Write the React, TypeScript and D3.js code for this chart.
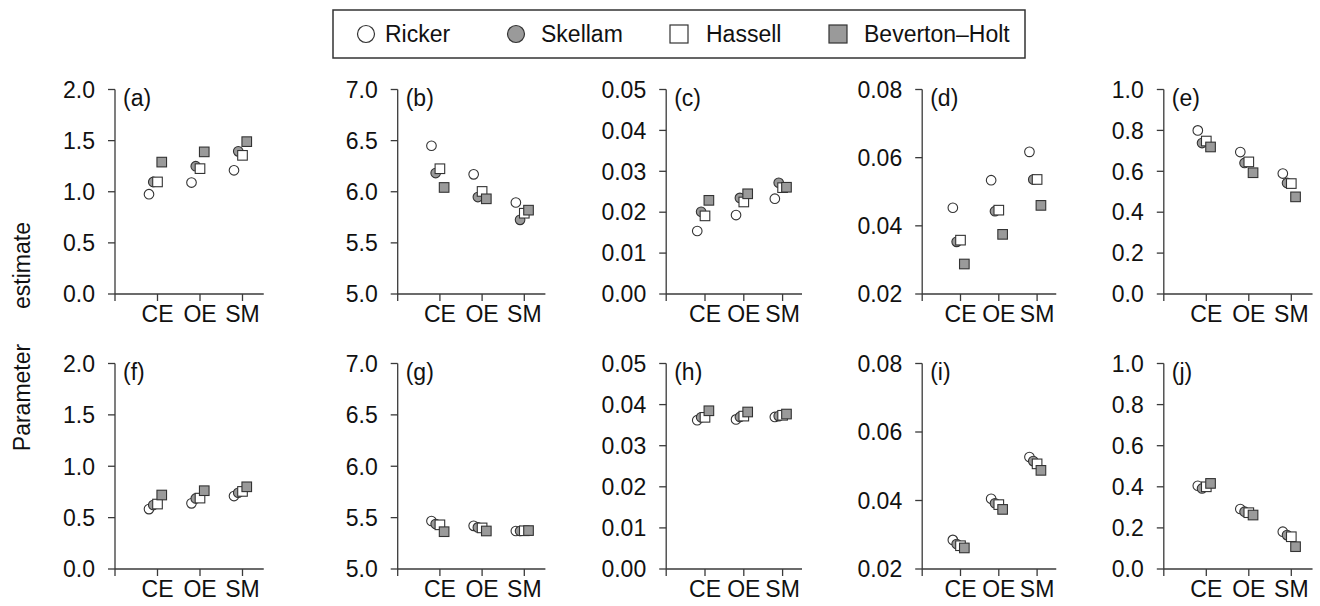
import React from "react";
import * as d3 from "d3";

// ---------- data ----------
const categories = ["CE", "OE", "SM"];
const models = ["Ricker", "Skellam", "Hassell", "Beverton–Holt"];
const panelLabels = ["(a)", "(b)", "(c)", "(d)", "(e)", "(f)", "(g)", "(h)", "(i)", "(j)"];

// y ticks per column
const yTicksCol1 = [0, 0.5, 1.0, 1.5, 2.0];
const yTicksCol2 = [5.0, 5.5, 6.0, 6.5, 7.0];
const yTicksCol3 = [0, 0.01, 0.02, 0.03, 0.04, 0.05];
const yTicksCol4 = [0.02, 0.04, 0.06, 0.08];
const yTicksCol5 = [0, 0.2, 0.4, 0.6, 0.8, 1.0];
const yTickFormats = [".1f", ".1f", ".2f", ".2f", ".1f"];

// values: [Ricker, Skellam, Hassell, Beverton–Holt], each [CE, OE, SM]
const valuesA = [[0.976, 1.09, 1.21], [1.096, 1.25, 1.395], [1.096, 1.226, 1.356], [1.29, 1.39, 1.49]];
const valuesB = [[6.45, 6.17, 5.895], [6.183, 5.948, 5.725], [6.225, 6.003, 5.79], [6.042, 5.931, 5.82]];
const valuesC = [[0.0154, 0.0193, 0.0233], [0.0201, 0.0235, 0.0272], [0.0191, 0.0225, 0.026], [0.0229, 0.0245, 0.0261]];
const valuesD = [[0.0453, 0.0534, 0.0617], [0.0353, 0.0443, 0.0536], [0.0358, 0.0446, 0.0536], [0.0288, 0.0375, 0.046]];
const valuesE = [[0.8, 0.694, 0.589], [0.738, 0.641, 0.543], [0.748, 0.646, 0.54], [0.719, 0.593, 0.475]];
const valuesF = [[0.583, 0.639, 0.71], [0.622, 0.687, 0.742], [0.632, 0.69, 0.755], [0.72, 0.762, 0.8]];
const valuesG = [[5.467, 5.42, 5.37], [5.438, 5.405, 5.37], [5.43, 5.4, 5.372], [5.363, 5.37, 5.374]];
const valuesH = [[0.0362, 0.0364, 0.037], [0.0369, 0.037, 0.0372], [0.0369, 0.0372, 0.0374], [0.0385, 0.0382, 0.0377]];
const valuesI = [[0.0285, 0.0405, 0.0527], [0.0273, 0.0392, 0.0515], [0.0268, 0.0388, 0.0507], [0.02615, 0.0374, 0.0488]];
const valuesJ = [[0.405, 0.292, 0.1815], [0.392, 0.279, 0.165], [0.4, 0.274, 0.157], [0.4165, 0.2626, 0.1086]];

// ---------- layout / style ----------
const yTicksByCol = [yTicksCol1, yTicksCol2, yTicksCol3, yTicksCol4, yTicksCol5];
const panelValues = [valuesA, valuesB, valuesC, valuesD, valuesE, valuesF, valuesG, valuesH, valuesI, valuesJ];
const colAxisX = [115, 397.7, 666.2, 922.2, 1163.8];
const colUnit = [42.5, 42.2, 38.8, 38.3, 42.5];
const rowTop = [89.5, 363.5];
const rowBottom = [294, 569];
const modelOffset = [-0.2, -0.1, 0, 0.1];
const modelShape = ["circle", "circle", "square", "square"];
const modelFill = ["#ffffff", "#9a9a9a", "#ffffff", "#9a9a9a"];
const FONT = "'Liberation Sans', Arial, sans-serif";
const FS = 23;
const AXIS = "#3a3a3a";
const MARK_STROKE = "#333";

function Marker({ shape, fill, x, y, r }: { shape: string; fill: string; x: number; y: number; r: number }) {
  if (shape === "circle") {
    return <circle cx={x} cy={y} r={r} fill={fill} stroke={MARK_STROKE} strokeWidth={1.1} />;
  }
  const s = r * 2;
  return <rect x={x - s / 2} y={y - s / 2} width={s} height={s} fill={fill} stroke={MARK_STROKE} strokeWidth={1.1} />;
}

function Panel({ idx }: { idx: number }) {
  const col = idx % 5;
  const row = Math.floor(idx / 5);
  const ticks = yTicksByCol[col];
  const fmt = d3.format(yTickFormats[col]);
  const x0 = colAxisX[col];
  const x = d3.scaleLinear().domain([0, 3.5]).range([x0, x0 + colUnit[col] * 3.5]);
  const y = d3
    .scaleLinear()
    .domain([ticks[0], ticks[ticks.length - 1]])
    .range([rowBottom[row], rowTop[row]]);
  const vals = panelValues[idx];
  const yb = rowBottom[row];
  const tickLen = 7;
  return (
    <g>
      {/* y axis */}
      <line x1={x0} x2={x0} y1={y(ticks[0])} y2={y(ticks[ticks.length - 1])} stroke={AXIS} strokeWidth={1.3} />
      {ticks.map((t) => (
        <g key={"yt" + t}>
          <line x1={x0 - tickLen} x2={x0} y1={y(t)} y2={y(t)} stroke={AXIS} strokeWidth={1.3} />
          <text x={x0 - 20} y={y(t)} dy="0.36em" textAnchor="end" fontFamily={FONT} fontSize={FS} fill="#111">
            {fmt(t)}
          </text>
        </g>
      ))}
      {/* x axis */}
      <line x1={x(0)} x2={x(3.5)} y1={yb} y2={yb} stroke={AXIS} strokeWidth={1.3} />
      {[0, 1, 2, 3].map((t) => (
        <line key={"xt" + t} x1={x(t)} x2={x(t)} y1={yb} y2={yb + tickLen} stroke={AXIS} strokeWidth={1.3} />
      ))}
      {categories.map((c, i) => (
        <text key={c} x={x(i + 1)} y={yb + 28} textAnchor="middle" fontFamily={FONT} fontSize={FS} fill="#111">
          {c}
        </text>
      ))}
      {/* panel label */}
      <text x={x0 + 8} y={rowTop[row] + 16} fontFamily={FONT} fontSize={FS} fill="#111">
        {panelLabels[idx]}
      </text>
      {/* markers */}
      {models.map((m, mi) =>
        vals[mi].map((v, ci) => (
          <Marker
            key={m + ci}
            shape={modelShape[mi]}
            fill={modelFill[mi]}
            x={x(ci + 1 + modelOffset[mi])}
            y={y(v)}
            r={modelShape[mi] === "circle" ? 4.8 : 4.8}
          />
        ))
      )}
    </g>
  );
}

function Legend() {
  const boxX = 333, boxY = 10, boxW = 692, boxH = 48;
  const cy = 34;
  const symX = [366, 516, 679, 838];
  const textX = [385, 541, 706, 864];
  return (
    <g>
      <rect x={boxX} y={boxY} width={boxW} height={boxH} fill="#fff" stroke="#333" strokeWidth={1.5} />
      {models.map((m, i) => (
        <g key={m}>
          {modelShape[i] === "circle" ? (
            <circle cx={symX[i]} cy={cy} r={8.5} fill={modelFill[i]} stroke={MARK_STROKE} strokeWidth={1.2} />
          ) : (
            <rect x={symX[i] - 9} y={cy - 9} width={18} height={18} fill={modelFill[i]} stroke={MARK_STROKE} strokeWidth={1.2} />
          )}
          <text x={textX[i]} y={cy} dy="0.36em" fontFamily={FONT} fontSize={FS} fill="#111">
            {m}
          </text>
        </g>
      ))}
    </g>
  );
}

export default function App() {
  return (
    <svg
      width={1320}
      height={606}
      viewBox="0 0 1320 606"
      style={{ position: "absolute", left: 0, top: 0, background: "#fff" }}
    >
      <rect x={0} y={0} width={1320} height={606} fill="#fff" />
      <Legend />
      {d3.range(10).map((i) => (
        <Panel key={i} idx={i} />
      ))}
      <text
        transform="translate(30,265.5) rotate(-90)"
        textAnchor="middle"
        fontFamily={FONT}
        fontSize={FS}
        fill="#111"
      >
        estimate
      </text>
      <text
        transform="translate(30,397.5) rotate(-90)"
        textAnchor="middle"
        fontFamily={FONT}
        fontSize={FS}
        fill="#111"
      >
        Parameter
      </text>
    </svg>
  );
}
